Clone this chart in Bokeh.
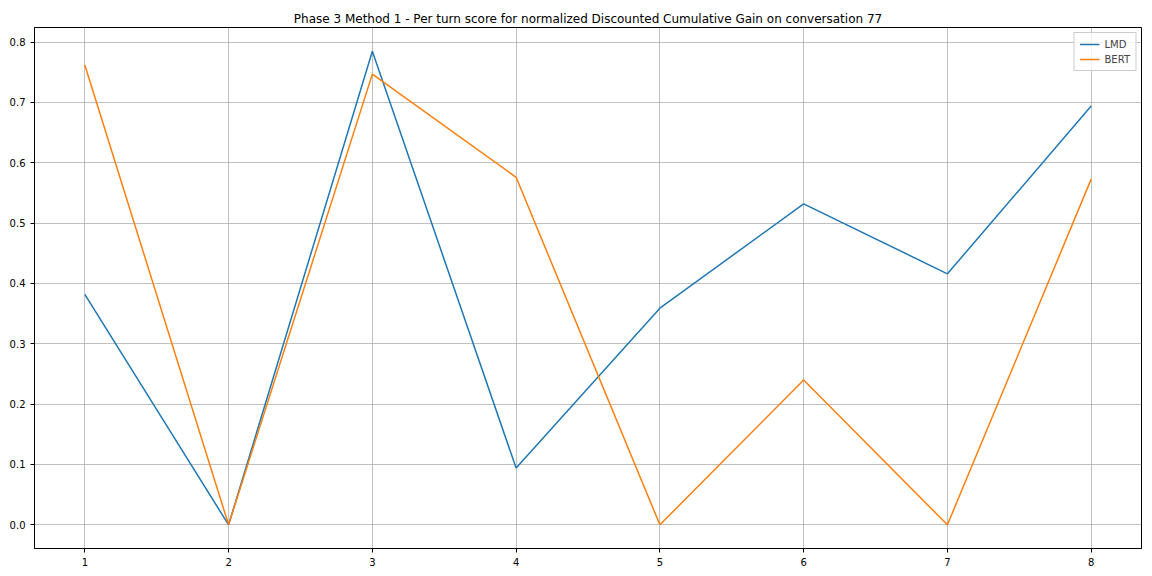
from bokeh.plotting import figure
from bokeh.embed import file_html
from bokeh.resources import INLINE
from bokeh.models import Range1d, FixedTicker, Legend, LegendItem, CustomJSTickFormatter

turns = [1, 2, 3, 4, 5, 6, 7, 8]
lmd = [0.382, 0.0, 0.785, 0.094, 0.359, 0.532, 0.416, 0.694]
bert = [0.762, 0.0, 0.747, 0.576, 0.0, 0.240, 0.0, 0.573]
y_ticks = [0.0, 0.1, 0.2, 0.3, 0.4, 0.5, 0.6, 0.7, 0.8]
title = "Phase 3 Method 1 - Per turn score for normalized Discounted Cumulative Gain on conversation 77"

p = figure(width=1152, height=576, output_backend="svg", toolbar_location=None,
           x_range=Range1d(0.65, 8.35), y_range=Range1d(-0.03925, 0.82425),
           min_border_left=34, min_border_right=11, min_border_top=27, min_border_bottom=28)
p.title.text = title
p.title.align = "center"
p.title.text_font = "DejaVu Sans"
p.title.text_font_size = "12px"
p.title.text_font_style = "normal"
p.title.text_color = "#000000"
p.title.offset = 0
p.title.standoff = 4

l1 = p.line(turns, lmd, line_color="#1f77b4", line_width=1.5)
l2 = p.line(turns, bert, line_color="#ff7f0e", line_width=1.5)

for ax in (p.xaxis[0], p.yaxis[0]):
    ax.major_label_text_font = "DejaVu Sans"
    ax.major_label_text_font_size = "10px"
    ax.major_label_text_color = "#000000"
    ax.major_tick_out = 4
    ax.major_tick_in = 0
    ax.minor_tick_out = 0
    ax.minor_tick_in = 0
    ax.axis_line_color = "#000000"
    ax.major_tick_line_color = "#000000"
    ax.axis_line_width = 1
p.xaxis.ticker = FixedTicker(ticks=turns)
p.yaxis.ticker = FixedTicker(ticks=y_ticks)
p.yaxis.formatter = CustomJSTickFormatter(code="return tick.toFixed(1);")

p.xgrid.ticker = FixedTicker(ticks=turns)
p.ygrid.ticker = FixedTicker(ticks=y_ticks)
p.grid.grid_line_color = "#b0b0b0"
p.grid.grid_line_width = 0.8

p.outline_line_color = "#000000"
p.outline_line_width = 1
p.outline_line_alpha = 1

legend = Legend(items=[LegendItem(label="LMD", renderers=[l1]),
                       LegendItem(label="BERT", renderers=[l2])],
                location="top_right")
legend.label_text_font = "DejaVu Sans"
legend.label_text_font_size = "10px"
legend.label_height = 12
legend.glyph_height = 12
legend.glyph_width = 20
legend.spacing = 3
legend.padding = 5
legend.margin = 5
legend.border_line_color = "#cccccc"
legend.border_line_alpha = 1
legend.background_fill_alpha = 0.8
p.add_layout(legend)

open("out.html", "w").write(file_html(p, INLINE))
